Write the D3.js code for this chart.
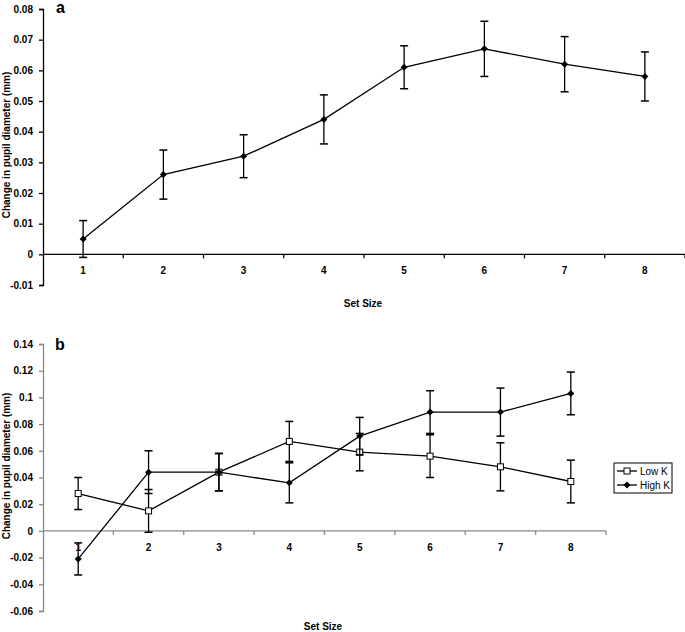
<!DOCTYPE html>
<html><head><meta charset="utf-8">
<script src="https://cdn.jsdelivr.net/npm/d3@7"></script>
<style>
body{margin:0;background:#fff;}
svg{display:block;font-family:"Liberation Sans",Arial,sans-serif;}
</style></head>
<body>
<svg id="c" width="685" height="632"></svg>
<script>
const setSizes = ["1","2","3","4","5","6","7","8"];
// Panel a
const meanA = [0.005,0.026,0.032,0.044,0.061,0.067,0.062,0.058];
const errA  = [0.006,0.008,0.007,0.008,0.007,0.009,0.009,0.008];
const ticksA = [-0.01,0,0.01,0.02,0.03,0.04,0.05,0.06,0.07,0.08];
// Panel b
const lowK  = [0.028,0.015,0.044,0.067,0.059,0.056,0.048,0.037];
const lowKErr = [0.012,0.016,0.014,0.015,0.014,0.016,0.018,0.016];
const highK = [-0.021,0.044,0.044,0.036,0.071,0.089,0.089,0.103];
const highKErr = [0.012,0.016,0.014,0.015,0.014,0.016,0.018,0.016];
const ticksB = [-0.06,-0.04,-0.02,0,0.02,0.04,0.06,0.08,0.1,0.12,0.14];
const seriesNames = ["Low K","High K"];

const svg = d3.select("#c");
const fmt = v => v===0 ? "0" : String(+v.toFixed(2));

function panel(o){
  const g = svg.append("g");
  const x = d3.scaleBand().domain(setSizes).range([o.x0,o.x1]);
  const y = d3.scaleLinear().domain(o.ydom).range([o.yb,o.yt]);
  const ya = g.append("g").attr("transform",`translate(${o.x0},0)`)
    .call(d3.axisLeft(y).tickValues(o.ticks).tickFormat(fmt).tickSize(4).tickPadding(6));
  ya.select(".domain").attr("stroke",o.axisColor).attr("stroke-width",1.3);
  ya.selectAll(".tick line").attr("stroke",o.axisColor).attr("stroke-width",1.3);
  ya.selectAll("text").attr("font-size",10).attr("font-weight","bold").attr("fill","#000");
  const y0 = y(0);
  g.append("line").attr("x1",o.x0).attr("x2",o.x1).attr("y1",y0).attr("y2",y0)
    .attr("stroke",o.axisColor).attr("stroke-width",1.3);
  const bounds = setSizes.map((d,i)=>x(d)).concat([o.x1]).slice(1);
  g.selectAll(".xt").data(bounds).enter().append("line")
    .attr("x1",d=>d).attr("x2",d=>d).attr("y1",y0).attr("y2",y0+4)
    .attr("stroke",o.axisColor).attr("stroke-width",1.3);
  g.selectAll(".xl").data(setSizes).enter().append("text")
    .attr("x",d=>x(d)+x.bandwidth()/2).attr("y",y0+20)
    .attr("text-anchor","middle").attr("font-size",10).attr("font-weight","bold").text(d=>d);
  g.append("text").attr("transform",`translate(${o.ylx},${o.yly}) rotate(-90)`)
    .attr("text-anchor","middle").attr("font-size",10).attr("font-weight","bold")
    .text("Change in pupil diameter (mm)");
  g.append("text").attr("x",o.xlx).attr("y",o.xly).attr("text-anchor","middle")
    .attr("font-size",10).attr("font-weight","bold").text("Set Size");
  g.append("text").attr("x",o.px).attr("y",o.py).attr("font-size",16).attr("font-weight","bold").text(o.letter);
  return {g,x,y};
}

function drawSeries(p, vals, errs, marker){
  const {g,x,y} = p;
  const cx = i => x(setSizes[i]) + x.bandwidth()/2;
  vals.forEach((v,i)=>{
    const hi=y(v+errs[i]), lo=y(v-errs[i]), c=cx(i);
    g.append("line").attr("x1",c).attr("x2",c).attr("y1",hi).attr("y2",lo).attr("stroke","#000").attr("stroke-width",1.3);
    [hi,lo].forEach(yy=>g.append("line").attr("x1",c-4).attr("x2",c+4).attr("y1",yy).attr("y2",yy).attr("stroke","#000").attr("stroke-width",1.5));
  });
  g.append("path").datum(vals).attr("fill","none").attr("stroke","#000").attr("stroke-width",1.3)
    .attr("d",d3.line().x((d,i)=>cx(i)).y(d=>y(d)));
  vals.forEach((v,i)=>drawMarker(g,cx(i),y(v),marker));
}
function drawMarker(g,cx,cy,marker){
  if(marker==="square"){
    g.append("rect").attr("x",cx-3).attr("y",cy-3).attr("width",6).attr("height",6)
      .attr("fill","#fff").attr("stroke","#000").attr("stroke-width",1);
  } else {
    g.append("path").attr("d",`M${cx},${cy-3.5}L${cx+3.5},${cy}L${cx},${cy+3.5}L${cx-3.5},${cy}Z`).attr("fill","#000");
  }
}

const pa = panel({x0:43,x1:685,yt:9,yb:285,ydom:[-0.01,0.08],ticks:ticksA,axisColor:"#000",
  ylx:10,yly:145,xlx:363,xly:307,px:56,py:13,letter:"a"});
drawSeries(pa, meanA, errA, "diamond");

const pb = panel({x0:43,x1:606,yt:344,yb:611,ydom:[-0.06,0.14],ticks:ticksB,axisColor:"#888",
  ylx:10,yly:466,xlx:323,xly:630,px:55,py:350,letter:"b"});
drawSeries(pb, lowK, lowKErr, "square");
drawSeries(pb, highK, highKErr, "diamond");

const lg = svg.append("g");
lg.append("rect").attr("x",614).attr("y",463).attr("width",58).attr("height",30)
  .attr("fill","#fff").attr("stroke","#000").attr("stroke-width",1);
seriesNames.forEach((n,i)=>{
  const yy = 471 + i*14;
  lg.append("line").attr("x1",617).attr("x2",637).attr("y1",yy).attr("y2",yy).attr("stroke","#000").attr("stroke-width",1.3);
  drawMarker(lg,627,yy,i===0?"square":"diamond");
  lg.append("text").attr("x",640).attr("y",yy+4).attr("font-size",10).text(n);
});
</script>
</body></html>
